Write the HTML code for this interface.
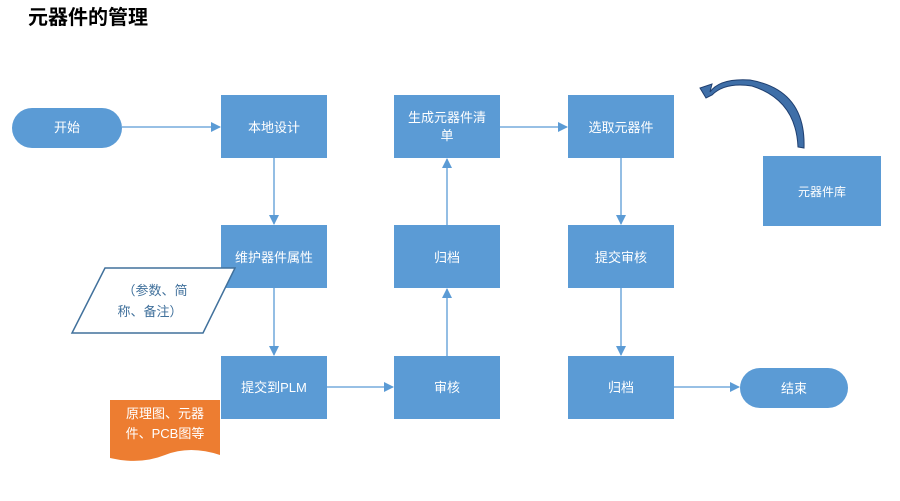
<!DOCTYPE html>
<html><head><meta charset="utf-8"><style>
body{margin:0;width:900px;height:496px;background:#fff;overflow:hidden;font-family:"Liberation Sans","Noto Sans CJK SC",sans-serif}
</style></head><body>
<svg width="900" height="496" viewBox="0 0 900 496" font-family="Liberation Sans, Noto Sans CJK SC, sans-serif">
<defs><marker id="a" markerWidth="10" markerHeight="10" refX="9" refY="5" orient="auto" markerUnits="userSpaceOnUse"><path d="M0,0 L10,5 L0,10 z" fill="#5b9bd5"/></marker></defs>
<text x="28" y="24" font-size="20" font-weight="bold" fill="#000">元器件的管理</text>
<g fill="#5b9bd5">
<rect x="12" y="108" width="110" height="40" rx="20"/>
<rect x="740" y="368" width="108" height="40" rx="20"/>
<rect x="221" y="95" width="106" height="63"/>
<rect x="394" y="95" width="106" height="63"/>
<rect x="568" y="95" width="106" height="63"/>
<rect x="221" y="225" width="106" height="63"/>
<rect x="394" y="225" width="106" height="63"/>
<rect x="568" y="225" width="106" height="63"/>
<rect x="221" y="356" width="106" height="63"/>
<rect x="394" y="356" width="106" height="63"/>
<rect x="568" y="356" width="106" height="63"/>
<rect x="763" y="156" width="118" height="70"/>
</g>
<path d="M110,400 H220 V455 Q190,445 165,455 Q140,465 110,458 Z" fill="#ed7d31"/>
<polygon points="105,268 235,268 203,333 72,333" fill="#fff" stroke="#41719c" stroke-width="1.5"/>
<g stroke="#5b9bd5" stroke-width="1.3" fill="none" marker-end="url(#a)">
<line x1="122" y1="127" x2="220" y2="127"/>
<line x1="274" y1="158" x2="274" y2="224"/>
<line x1="274" y1="288" x2="274" y2="355"/>
<line x1="327" y1="387" x2="393" y2="387"/>
<line x1="447" y1="356" x2="447" y2="289"/>
<line x1="447" y1="225" x2="447" y2="159"/>
<line x1="500" y1="127" x2="567" y2="127"/>
<line x1="621" y1="158" x2="621" y2="224"/>
<line x1="621" y1="288" x2="621" y2="355"/>
<line x1="674" y1="387" x2="739" y2="387"/>
</g>
<path d="M804,148 Q806,90 750,80 Q720,78 710,92 L712,84 L700,88 L706,98 L712,95 Q725,82 752,86 Q796,100 798,147 Z" fill="#3f6fa8" stroke="#1f3f70" stroke-width="1"/>
<g fill="#fff" font-size="13" text-anchor="middle">
<text x="67" y="132">开始</text>
<text x="794" y="393">结束</text>
<text x="274" y="132">本地设计</text>
<text x="447" y="122">生成元器件清</text>
<text x="447" y="140">单</text>
<text x="621" y="132">选取元器件</text>
<text x="274" y="262">维护器件属性</text>
<text x="447" y="262">归档</text>
<text x="621" y="262">提交审核</text>
<text x="274" y="392">提交到PLM</text>
<text x="447" y="392">审核</text>
<text x="621" y="392">归档</text>
<text x="822" y="196" font-size="12">元器件库</text>
<text x="165" y="418">原理图、元器</text>
<text x="165" y="438">件、PCB图等</text>
</g>
<g fill="#41719c" font-size="13" text-anchor="middle">
<text x="155" y="295">（参数、简</text>
<text x="150" y="316">称、备注）</text>
</g>
</svg>
</body></html>
